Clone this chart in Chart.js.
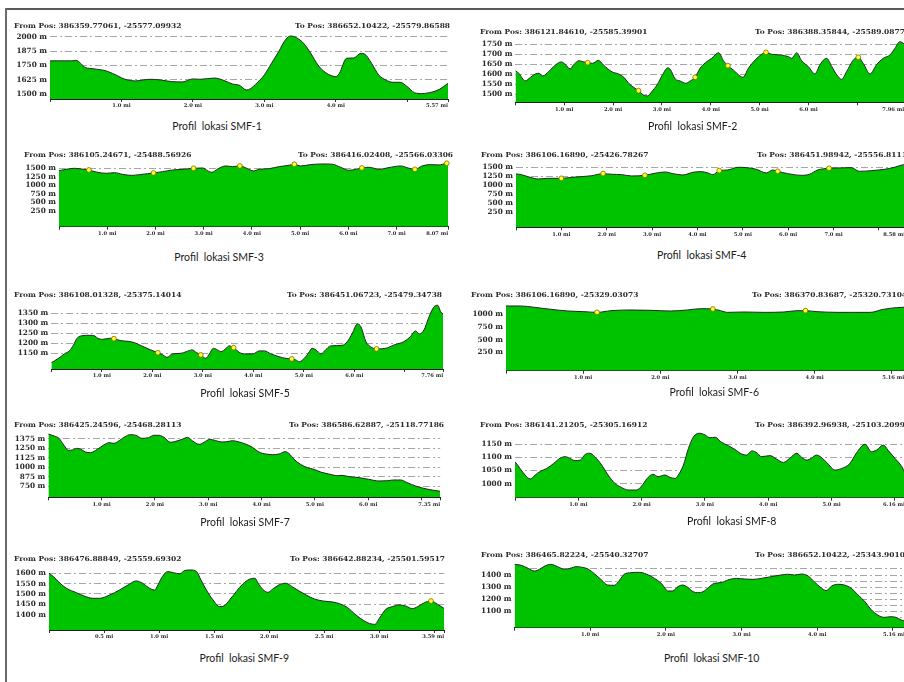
<!DOCTYPE html>
<html>
<head>
<meta charset="utf-8">
<script src="https://cdn.jsdelivr.net/npm/chart.js@4.4.1/dist/chart.umd.min.js"></script>
<style>
  html, body { margin: 0; padding: 0; background: #fff; }
  body { width: 904px; height: 682px; overflow: hidden; position: relative; }
  .frame-top { position: absolute; left: 5px; top: 8px; width: 899px; height: 2px; background: #5a5a5a; }
  .frame-left { position: absolute; left: 5px; top: 8px; width: 2px; height: 674px; background: #6a6a6a; }
  canvas { position: absolute; }
  .pos { position: absolute; font-family: 'DejaVu Serif', 'Liberation Serif', serif; font-size: 6.8px; font-weight: bold;
         color: #2a2a2a; white-space: pre; line-height: 10px; transform: scaleX(1.1); transform-origin: 0 50%; }
  .cap { position: absolute; font-family: Lato, 'Open Sans', sans-serif; font-size: 10.5px; color: #1a1a1a;
         white-space: pre; line-height: 12px; transform: translateX(-50%); }
</style>
</head>
<body>
<div class="frame-top"></div>
<div class="frame-left"></div>
<script>
// ---- elevation profiles: [distance (mi), elevation (m)] ----
const SMF1 = [[0,1790],[0.3,1790],[0.36,1795],[0.5,1731],[0.6,1722],[0.8,1700],[0.95,1659],[1.05,1630],[1.2,1616],[1.3,1624],[1.4,1630],[1.55,1624],[1.7,1610],[1.85,1607],[2.0,1633],[2.1,1630],[2.3,1641],[2.45,1616],[2.55,1590],[2.65,1578],[2.75,1538],[2.8,1546],[2.9,1601],[3.0,1668],[3.1,1769],[3.2,1870],[3.3,1977],[3.37,2006],[3.45,1991],[3.55,1942],[3.65,1855],[3.75,1754],[3.85,1691],[3.95,1659],[4.0,1653],[4.05,1682],[4.15,1812],[4.25,1815],[4.35,1855],[4.4,1850],[4.5,1769],[4.6,1668],[4.7,1624],[4.8,1604],[4.9,1604],[5.0,1566],[5.1,1514],[5.2,1506],[5.35,1520],[5.45,1543],[5.57,1595]];
const SMF1_MARKS = [];

const SMF2 = [[0,1618],[0.07,1605],[0.2,1567],[0.31,1585],[0.41,1602],[0.48,1605],[0.56,1592],[0.68,1613],[0.78,1638],[0.94,1662],[1.02,1650],[1.12,1627],[1.19,1647],[1.3,1668],[1.4,1662],[1.48,1658],[1.58,1655],[1.7,1670],[1.8,1647],[1.98,1612],[2.11,1602],[2.22,1585],[2.32,1555],[2.42,1535],[2.52,1518],[2.62,1497],[2.71,1492],[2.79,1513],[2.9,1547],[3.01,1597],[3.12,1633],[3.17,1625],[3.27,1577],[3.37,1567],[3.49,1555],[3.58,1567],[3.68,1585],[3.78,1630],[3.89,1658],[4.02,1680],[4.16,1708],[4.26,1667],[4.35,1643],[4.46,1622],[4.57,1597],[4.66,1585],[4.77,1630],[4.91,1672],[5.04,1700],[5.13,1710],[5.25,1700],[5.42,1697],[5.59,1688],[5.66,1680],[5.76,1708],[5.86,1668],[6.0,1638],[6.13,1602],[6.24,1650],[6.37,1680],[6.48,1638],[6.58,1597],[6.68,1575],[6.78,1613],[6.92,1672],[7.02,1685],[7.12,1655],[7.26,1602],[7.4,1650],[7.53,1680],[7.67,1697],[7.77,1730],[7.87,1763],[7.96,1752]];
const SMF2_MARKS = [[1.48,1658],[2.52,1518],[3.68,1585],[4.35,1643],[5.13,1710],[7.02,1685]];

const SMF3 = [[0,1431],[0.15,1470],[0.32,1500],[0.46,1480],[0.62,1451],[0.77,1391],[0.98,1352],[1.15,1372],[1.32,1322],[1.5,1292],[1.67,1312],[1.84,1342],[1.96,1362],[2.15,1401],[2.36,1451],[2.57,1470],[2.79,1500],[2.98,1510],[3.08,1431],[3.17,1381],[3.29,1480],[3.46,1569],[3.6,1550],[3.75,1569],[3.91,1490],[4.03,1421],[4.15,1470],[4.36,1490],[4.57,1550],[4.77,1589],[4.88,1619],[5.01,1569],[5.22,1609],[5.46,1628],[5.67,1619],[5.84,1530],[6.01,1441],[6.15,1470],[6.28,1510],[6.43,1530],[6.63,1470],[6.84,1520],[7.08,1569],[7.26,1500],[7.38,1470],[7.53,1569],[7.7,1609],[7.87,1599],[8.04,1648],[8.07,1652]];
const SMF3_MARKS = [[0.62,1451],[1.96,1362],[2.79,1500],[3.75,1569],[4.88,1619],[6.28,1510],[7.38,1470],[8.04,1648]];

const SMF4 = [[0,1315],[0.12,1296],[0.31,1222],[0.49,1176],[0.71,1194],[1.0,1194],[1.23,1222],[1.45,1241],[1.67,1268],[1.92,1324],[2.11,1306],[2.33,1296],[2.55,1259],[2.84,1278],[3.06,1333],[3.28,1370],[3.46,1324],[3.68,1287],[3.9,1361],[4.09,1380],[4.23,1343],[4.34,1296],[4.48,1407],[4.67,1426],[4.89,1500],[5.08,1491],[5.3,1444],[5.52,1343],[5.66,1426],[5.77,1389],[5.99,1324],[6.29,1278],[6.47,1306],[6.65,1426],[6.9,1472],[7.09,1481],[7.39,1491],[7.57,1389],[7.83,1407],[8.12,1444],[8.34,1500],[8.54,1574],[8.58,1580]];
const SMF4_MARKS = [[1.0,1194],[1.92,1324],[2.84,1278],[4.48,1407],[5.77,1389],[6.9,1472]];

const SMF5 = [[0,1103],[0.13,1123],[0.26,1147],[0.36,1163],[0.44,1192],[0.51,1225],[0.59,1237],[0.76,1240],[0.86,1237],[0.92,1225],[1.02,1220],[1.15,1225],[1.24,1223],[1.38,1213],[1.52,1210],[1.65,1203],[1.78,1188],[1.94,1170],[2.11,1153],[2.21,1142],[2.29,1130],[2.4,1147],[2.57,1150],[2.67,1158],[2.79,1167],[2.88,1153],[2.96,1142],[3.06,1125],[3.13,1147],[3.21,1175],[3.29,1167],[3.36,1158],[3.46,1175],[3.52,1187],[3.61,1178],[3.72,1155],[3.82,1147],[3.99,1147],[4.12,1162],[4.22,1162],[4.35,1147],[4.51,1133],[4.64,1125],[4.76,1122],[4.84,1117],[4.91,1108],[5.01,1125],[5.11,1158],[5.16,1175],[5.24,1167],[5.34,1147],[5.43,1167],[5.53,1187],[5.76,1190],[5.86,1208],[5.96,1250],[6.06,1297],[6.13,1283],[6.23,1208],[6.32,1183],[6.44,1172],[6.62,1175],[6.79,1192],[6.98,1208],[7.11,1233],[7.21,1262],[7.29,1247],[7.38,1267],[7.48,1333],[7.58,1383],[7.65,1390],[7.71,1358],[7.76,1345]];
const SMF5_MARKS = [[1.24,1223],[2.11,1153],[2.96,1142],[3.61,1178],[4.76,1122],[6.44,1172]];

const SMF6 = [[0,1165],[0.19,1165],[0.37,1138],[0.58,1099],[0.8,1066],[1.01,1053],[1.18,1039],[1.36,1072],[1.62,1086],[1.88,1079],[2.13,1066],[2.35,1086],[2.52,1112],[2.68,1105],[2.78,1072],[2.87,1039],[3.08,1046],[3.34,1039],[3.6,1046],[3.77,1072],[3.88,1072],[4.03,1053],[4.29,1039],[4.5,1039],[4.72,1039],[4.89,1099],[5.06,1132],[5.16,1140]];
const SMF6_MARKS = [[1.18,1039],[2.68,1105],[3.88,1072]];

const SMF7 = [[0,1441],[0.11,1415],[0.2,1384],[0.29,1295],[0.38,1224],[0.45,1229],[0.53,1251],[0.61,1238],[0.7,1202],[0.79,1193],[0.92,1238],[1.04,1295],[1.14,1326],[1.23,1317],[1.33,1353],[1.44,1406],[1.54,1433],[1.64,1424],[1.76,1384],[1.88,1393],[1.98,1424],[2.08,1424],[2.17,1397],[2.29,1331],[2.39,1344],[2.51,1371],[2.61,1397],[2.7,1353],[2.83,1304],[2.92,1331],[3.03,1371],[3.14,1353],[3.26,1335],[3.39,1344],[3.45,1353],[3.58,1335],[3.7,1308],[3.83,1264],[3.95,1202],[4.08,1176],[4.2,1167],[4.33,1176],[4.44,1207],[4.51,1185],[4.61,1105],[4.73,1038],[4.86,994],[4.98,972],[5.11,936],[5.26,910],[5.42,888],[5.51,892],[5.64,874],[5.83,861],[6.01,839],[6.2,817],[6.36,821],[6.48,830],[6.61,830],[6.73,795],[6.89,750],[7.04,719],[7.2,697],[7.31,684],[7.35,682]];
const SMF7_MARKS = [];

const SMF8 = [[0,1084],[0.08,1058],[0.16,1033],[0.24,1018],[0.32,1033],[0.39,1046],[0.5,1058],[0.61,1077],[0.71,1097],[0.79,1103],[0.84,1100],[0.95,1088],[1.03,1090],[1.11,1112],[1.18,1116],[1.26,1103],[1.37,1071],[1.47,1033],[1.58,1001],[1.68,986],[1.79,976],[1.92,976],[2.0,991],[2.08,1018],[2.18,1036],[2.26,1027],[2.37,1033],[2.45,1024],[2.53,1020],[2.58,1033],[2.66,1071],[2.74,1135],[2.82,1179],[2.92,1192],[3.0,1186],[3.08,1175],[3.16,1177],[3.26,1158],[3.37,1145],[3.47,1131],[3.58,1113],[3.66,1109],[3.74,1125],[3.82,1118],[3.89,1103],[4.03,1107],[4.13,1094],[4.24,1081],[4.34,1097],[4.45,1116],[4.53,1100],[4.61,1090],[4.68,1097],[4.76,1109],[4.84,1100],[4.95,1074],[5.05,1052],[5.16,1058],[5.29,1077],[5.39,1116],[5.53,1150],[5.63,1122],[5.71,1128],[5.82,1147],[5.89,1128],[6.0,1097],[6.11,1065],[6.16,1040]];
const SMF8_MARKS = [];

const SMF9 = [[0,1600],[0.04,1584],[0.1,1552],[0.16,1527],[0.25,1506],[0.32,1490],[0.4,1479],[0.46,1479],[0.55,1495],[0.64,1519],[0.72,1544],[0.79,1563],[0.85,1552],[0.9,1532],[0.96,1519],[0.99,1544],[1.03,1584],[1.08,1608],[1.13,1603],[1.19,1597],[1.23,1613],[1.29,1616],[1.34,1608],[1.38,1568],[1.43,1519],[1.49,1471],[1.55,1439],[1.59,1442],[1.64,1471],[1.7,1511],[1.76,1548],[1.82,1571],[1.87,1576],[1.9,1552],[1.94,1523],[1.99,1508],[2.03,1523],[2.09,1544],[2.15,1552],[2.21,1535],[2.27,1515],[2.34,1494],[2.41,1476],[2.49,1466],[2.58,1461],[2.64,1453],[2.71,1435],[2.79,1398],[2.86,1371],[2.91,1358],[2.96,1353],[3.0,1382],[3.06,1426],[3.12,1439],[3.18,1447],[3.24,1442],[3.3,1429],[3.35,1439],[3.41,1458],[3.47,1466],[3.53,1450],[3.59,1430]];
const SMF9_MARKS = [[3.47,1466]];

const SMF10 = [[0,1488],[0.09,1480],[0.18,1455],[0.26,1433],[0.33,1447],[0.4,1474],[0.48,1488],[0.57,1469],[0.66,1447],[0.75,1458],[0.81,1469],[0.9,1463],[0.97,1450],[1.06,1408],[1.15,1359],[1.23,1317],[1.32,1315],[1.39,1359],[1.45,1406],[1.54,1419],[1.65,1422],[1.74,1408],[1.85,1372],[1.94,1331],[2.03,1268],[2.09,1268],[2.16,1304],[2.22,1317],[2.29,1298],[2.36,1262],[2.42,1254],[2.49,1262],[2.56,1295],[2.64,1331],[2.73,1337],[2.82,1359],[2.93,1372],[3.04,1367],[3.15,1364],[3.26,1372],[3.39,1386],[3.52,1400],[3.61,1406],[3.7,1400],[3.79,1408],[3.88,1392],[3.96,1345],[4.05,1295],[4.12,1271],[4.19,1309],[4.27,1323],[4.36,1317],[4.45,1290],[4.54,1235],[4.63,1180],[4.71,1116],[4.8,1069],[4.89,1050],[4.98,1056],[5.04,1050],[5.11,1028],[5.16,1018]];
const SMF10_MARKS = [];

// ---- axis ticks ----
const Y1 = [1500,1625,1750,1875,2000];
const Y2 = [1500,1550,1600,1650,1700,1750];
const Y3 = [250,500,750,1000,1250,1500];
const Y4 = [250,500,750,1000,1250,1500];
const Y5 = [1150,1200,1250,1300,1350];
const Y6 = [250,500,750,1000];
const Y7 = [750,875,1000,1125,1250,1375];
const Y8 = [1000,1050,1100,1150];
const Y9 = [1400,1450,1500,1550,1600];
const Y10 = [1050,1100,1150,1200,1250,1300,1350,1400,1450];
const Y10_LABELED = [1100,1200,1300,1400];

const X1 = [0,1,2,3,4,5,5.57];
const XL1 = ['','1.0 mi','2.0 mi','3.0 mi','4.0 mi','','5.57 mi'];
const X2 = [0,1,2,3,4,5,6,7,7.96];
const XL2 = ['','1.0 mi','2.0 mi','3.0 mi','4.0 mi','5.0 mi','6.0 mi','','7.96 mi'];
const X3 = [0,1,2,3,4,5,6,7,8.07];
const XL3 = ['','1.0 mi','2.0 mi','3.0 mi','4.0 mi','5.0 mi','6.0 mi','7.0 mi','8.07 mi'];
const X4 = [0,1,2,3,4,5,6,7,8,8.58];
const XL4 = ['','1.0 mi','2.0 mi','3.0 mi','4.0 mi','5.0 mi','6.0 mi','7.0 mi','','8.58 mi'];
const X5 = [0,1,2,3,4,5,6,7,7.76];
const XL5 = ['','1.0 mi','2.0 mi','3.0 mi','4.0 mi','5.0 mi','6.0 mi','','7.76 mi'];
const X6 = [0,1,2,3,4,5,5.16];
const XL6 = ['','1.0 mi','2.0 mi','3.0 mi','4.0 mi','','5.16 mi'];
const X7 = [0,1,2,3,4,5,6,7,7.35];
const XL7 = ['','1.0 mi','2.0 mi','3.0 mi','4.0 mi','5.0 mi','6.0 mi','','7.35 mi'];
const X8 = [0,1,2,3,4,5,6,6.16];
const XL8 = ['','1.0 mi','2.0 mi','3.0 mi','4.0 mi','5.0 mi','','6.16 mi'];
const X9 = [0,0.5,1,1.5,2,2.5,3,3.5,3.59];
const XL9 = ['','0.5 mi','1.0 mi','1.5 mi','2.0 mi','2.5 mi','3.0 mi','','3.59 mi'];
const X10 = [0,1,2,3,4,5,5.16];
const XL10 = ['','1.0 mi','2.0 mi','3.0 mi','4.0 mi','','5.16 mi'];

// ---- end point coordinates and captions ----
const FROM = ['386359.77061, -25577.09932','386121.84610, -25585.39901','386105.24671, -25488.56926','386106.16890, -25426.78267','386108.01328, -25375.14014','386106.16890, -25329.03073','386425.24596, -25468.28113','386141.21205, -25305.16912','386476.88849, -25559.69302','386465.82224, -25540.32707'];
const TO = ['386652.10422, -25579.86588','386388.35844, -25589.08776','386416.02408, -25566.03306','386451.98942, -25556.81118','386451.06723, -25479.34738','386370.83687, -25320.73104','386586.62887, -25118.77186','386392.96938, -25103.20994','386642.88234, -25501.59517','386652.10422, -25343.90102'];
const NAMES = ['SMF-1','SMF-2','SMF-3','SMF-4','SMF-5','SMF-6','SMF-7','SMF-8','SMF-9','SMF-10'];

// ---- panel layout (plot box in page pixels, axis ranges, text anchors) ----
const panels = [
  {data:SMF1,  marks:SMF1_MARKS,  yTicks:Y1,  yLab:Y1,  xTicks:X1,  xLab:XL1,  yMin:1459,  yMax:2030, plot:{l:50,   r:448,   t:33.2,  b:99},    from:[14,26],   to:[295,26],    cap:[217,126]},
  {data:SMF2,  marks:SMF2_MARKS,  yTicks:Y2,  yLab:Y2,  xTicks:X2,  xLab:XL2,  yMin:1460,  yMax:1775, plot:{l:515.4,r:905,   t:39.3,  b:102.3}, from:[480,32.3],to:[755,32.3],  cap:[692.7,125.7]},
  {data:SMF3,  marks:SMF3_MARKS,  yTicks:Y3,  yLab:Y3,  xTicks:X3,  xLab:XL3,  yMin:-222,  yMax:1700, plot:{l:59,   r:448.5, t:161.5, b:226.7}, from:[24,155],  to:[298.3,155], cap:[219,256.7]},
  {data:SMF4,  marks:SMF4_MARKS,  yTicks:Y4,  yLab:Y4,  xTicks:X4,  xLab:XL4,  yMin:-167,  yMax:1650, plot:{l:516,  r:905.5, t:161.9, b:227.3}, from:[481,155], to:[756.7,155], cap:[701.7,255]},
  {data:SMF5,  marks:SMF5_MARKS,  yTicks:Y5,  yLab:Y5,  xTicks:X5,  xLab:XL5,  yMin:1071.5,yMax:1400, plot:{l:51.3, r:444,   t:303.3, b:369},   from:[14,295],  to:[287.3,295], cap:[245,392.7]},
  {data:SMF6,  marks:SMF6_MARKS,  yTicks:Y6,  yLab:Y6,  xTicks:X6,  xLab:XL6,  yMin:-113,  yMax:1200, plot:{l:506,  r:905,   t:304.2, b:370.7}, from:[471,295], to:[751.7,295], cap:[714.3,392.3]},
  {data:SMF7,  marks:SMF7_MARKS,  yTicks:Y7,  yLab:Y7,  xTicks:X7,  xLab:XL7,  yMin:600,   yMax:1460, plot:{l:48.3, r:440.2, t:432.6, b:497.3}, from:[14,425],  to:[289.3,425], cap:[245,521.7]},
  {data:SMF8,  marks:SMF8_MARKS,  yTicks:Y8,  yLab:Y8,  xTicks:X8,  xLab:XL8,  yMin:946.7, yMax:1200, plot:{l:515,  r:905,   t:431.2, b:497.7}, from:[480,425], to:[755,425],   cap:[731.7,521]},
  {data:SMF9,  marks:SMF9_MARKS,  yTicks:Y9,  yLab:Y9,  xTicks:X9,  xLab:XL9,  yMin:1326,  yMax:1625, plot:{l:49,   r:445,   t:568.1, b:630},   from:[14,559.3],to:[290,559.3], cap:[244.3,658.3]},
  {data:SMF10, marks:SMF10_MARKS, yTicks:Y10, yLab:Y10_LABELED, xTicks:X10, xLab:XL10, yMin:964.5, yMax:1500, plot:{l:514.5,r:905, t:562.9, b:627.7}, from:[481,555], to:[755,555], cap:[711.7,658.3]}
];

const SERIF = "'DejaVu Serif', 'Liberation Serif', serif";
const GREEN = '#00c300';

function addText(cls, text, x, y, half) {
  const d = document.createElement('div');
  d.className = cls;
  d.textContent = text;
  d.style.left = x + 'px';
  d.style.top = (y - half) + 'px';
  document.body.appendChild(d);
}

function makePanel(p, i) {
  const XH = 20, PADR = 4;
  const cL = p.plot.l < 300 ? 8 : 468;
  const cT = Math.floor(p.plot.t) - 12;
  const W = Math.ceil(p.plot.r + PADR - cL);
  const H = Math.ceil(p.plot.b + XH - cT);
  const canvas = document.createElement('canvas');
  canvas.width = W; canvas.height = H;
  canvas.style.left = cL + 'px'; canvas.style.top = cT + 'px';
  canvas.style.width = W + 'px'; canvas.style.height = H + 'px';
  document.body.appendChild(canvas);

  const yAxisW = p.plot.l - cL;
  const xAxisH = cT + H - p.plot.b;
  const padTop = p.plot.t - cT;
  const padRight = cL + W - p.plot.r;

  new Chart(canvas, {
    type: 'line',
    data: {
      datasets: [
        { data: p.data, borderColor: '#262626', borderWidth: 1, backgroundColor: GREEN,
          fill: 'start', pointRadius: 0, cubicInterpolationMode: 'monotone', order: 2 },
        { data: p.marks, showLine: false, fill: false, pointRadius: 2.4,
          pointBackgroundColor: '#ffff30', pointBorderColor: '#7a6f00', pointBorderWidth: 0.8,
          order: 1, clip: 4 }
      ]
    },
    options: {
      responsive: false, animation: false, events: [],
      layout: { padding: { left: 0, top: padTop, right: padRight, bottom: 0 } },
      plugins: { legend: { display: false }, tooltip: { enabled: false } },
      scales: {
        x: {
          type: 'linear', min: 0, max: p.xTicks[p.xTicks.length - 1], z: 1,
          afterBuildTicks: s => { s.ticks = p.xTicks.map(v => ({ value: v })); },
          afterFit: s => { s.height = xAxisH; },
          grid: { drawOnChartArea: false, drawTicks: true, tickLength: 3, color: '#333', tickColor: '#333' },
          border: { display: true, color: '#1a1a1a', width: 1 },
          ticks: { autoSkip: false, maxRotation: 0, minRotation: 0, align: 'inner', padding: 1,
                   color: '#2a2a2a', font: { family: SERIF, size: 5.2, weight: 'bold' },
                   callback: (v, idx) => p.xLab[idx] }
        },
        y: {
          type: 'linear', min: p.yMin, max: p.yMax, z: 1,
          afterBuildTicks: s => { s.ticks = p.yTicks.map(v => ({ value: v })); },
          afterFit: s => { s.width = yAxisW; },
          grid: { drawTicks: false, color: 'rgba(0,0,0,0.35)', lineWidth: 1 },
          border: { display: false, dash: [7, 3, 2, 3] },
          ticks: { autoSkip: false, padding: 3, color: '#2a2a2a', font: { family: SERIF, size: 7.3, weight: 'bold' },
                   callback: v => p.yLab.includes(v) ? v + ' m' : '' }
        }
      }
    }
  });

  addText('pos', 'From Pos: ' + FROM[i], p.from[0], p.from[1], 5);
  addText('pos', 'To Pos: ' + TO[i], p.to[0], p.to[1], 5);
  addText('cap', 'Profil  lokasi ' + NAMES[i], p.cap[0], p.cap[1], 6);
}

panels.forEach(makePanel);
</script>
</body>
</html>
